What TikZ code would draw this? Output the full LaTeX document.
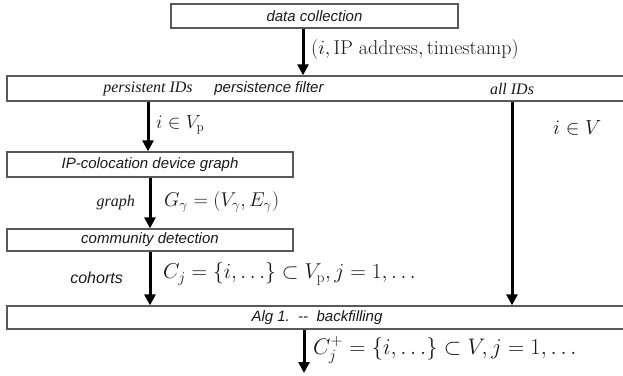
\RequirePackage{fix-cm}
\documentclass[tikz,border=0pt]{standalone}
\usepackage{fontspec}
\usepackage{amsmath}
\newfontfamily\arialf{Liberation Sans}
\newfontfamily\timesf{Liberation Serif}
\usetikzlibrary{arrows.meta}
\begin{document}
\begin{tikzpicture}[x=1pt,y=-1pt,
 box/.style={draw=black!65, line width=1.3pt, inner sep=0pt, rectangle},
 flow/.style={line width=3pt, -{Triangle[width=11pt,length=11pt]}},
 sflab/.style={font=\arialf\itshape\fontsize{15}{18}\selectfont, inner sep=0pt, text=black!90},
 serlab/.style={font=\timesf\itshape\fontsize{16}{19}\selectfont, inner sep=0pt, text=black!90},
 mlab/.style={anchor=west, inner sep=0pt, text=black!90}]
\useasboundingbox (0,0) rectangle (623,375);
\clip (0,0) rectangle (623,375);
% boxes
\node[box, minimum width=287pt, minimum height=24pt, sflab] (data) at (314.5,16) {data collection};
\node[box, minimum width=633pt, minimum height=25pt] (filter) at (323.5,88.5) {};
\node[box, minimum width=286pt, minimum height=25pt, sflab] (ip) at (150,164.5) {IP-colocation device graph};
\node[box, minimum width=286pt, minimum height=22pt, sflab] (comm) at (150,240) {community detection};
\node[box, minimum width=633pt, minimum height=23pt] (back) at (323.5,317.5) {};
% box texts
\node[serlab] (pid) at (148,89) {persistent IDs};
\node[sflab] (pf) at (269,89) {persistence filter};
\node[serlab] (aid) at (512,89) {all IDs};
\node[sflab] (alg) at (317,318) {Alg 1.\ \ -{}-\ \ backfilling};
% arrow columns
\coordinate (c1) at (303,0);
\coordinate (c2) at (148,0);
\coordinate (c3) at (150,0);
\coordinate (c4) at (512,0);
\coordinate (c5) at (304,0);
\coordinate (endb) at (304,373);
\draw[flow] (data.south -| c1) -- (filter.north -| c1);
\draw[flow] (filter.south -| c2) -- (ip.north -| c2);
\draw[flow] (ip.south -| c3) -- (comm.north -| c3);
\draw[flow] (comm.south -| c3) -- (back.north -| c3);
\draw[flow] (filter.south -| c4) -- (back.north -| c4);
\draw[flow] (back.south -| c5) -- (endb);
% labels
\node[mlab, font=\fontsize{20}{24}\selectfont] (l1) at (311,49) {$(i,\text{IP address},\text{timestamp})$};
\node[mlab, font=\fontsize{19}{23}\selectfont] (l2) at (156,125) {$i\in V_{\mathrm{p}}$};
\node[mlab, font=\fontsize{20.5}{24}\selectfont] (l3) at (553,128) {$i\in V$};
\node[serlab, anchor=east] (gr) at (135,203) {graph};
\node[mlab, font=\fontsize{20}{24}\selectfont] (l4) at (164,202) {$G_\gamma=(V_\gamma,E_\gamma)$};
\node[sflab, anchor=east, font=\arialf\itshape\fontsize{16}{19}\selectfont] (co) at (123,278) {cohorts};
\node[mlab, font=\fontsize{21.5}{26}\selectfont] (l5) at (163,274) {$C_j=\{i,\ldots\}\subset V_{\mathrm{p}},j=1,\ldots$};
\node[mlab, font=\fontsize{22.5}{27}\selectfont] (l6) at (313,350) {$C_j^{+}=\{i,\ldots\}\subset V,j=1,\ldots$};
\end{tikzpicture}
\end{document}
